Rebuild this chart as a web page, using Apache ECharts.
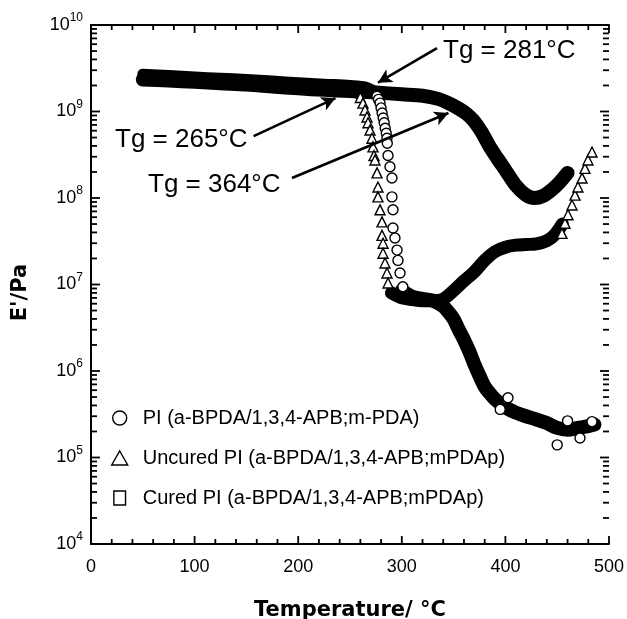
<!DOCTYPE html>
<html>
<head>
<meta charset="utf-8">
<title>E' vs temperature</title>
<script src="https://cdn.jsdelivr.net/npm/echarts@6/dist/echarts.min.js"></script>
<style>
  html, body { margin: 0; padding: 0; background: #ffffff; }
  #chart { width: 627px; height: 619px; }
</style>
</head>
<body>
<div id="chart"></div>
<script>
(function (global) {
  "use strict";

  var NAME_PI = "PI (a-BPDA/1,3,4-APB;m-PDA)";
  var NAME_UNCURED = "Uncured PI (a-BPDA/1,3,4-APB;mPDAp)";
  var NAME_CURED = "Cured PI (a-BPDA/1,3,4-APB;mPDAp)";

  var xTickLabels = [0, 100, 200, 300, 400, 500];
  var yDecades = [4, 5, 6, 7, 8, 9, 10];
  var tgLabels = ["Tg = 281°C", "Tg = 265°C", "Tg = 364°C"];

  // PI (circles): glassy plateau, open markers through the drop, rubbery tail
  var piPlateauT = [50, 75, 100, 125, 150, 175, 200, 225, 250, 265, 274];
  var piPlateauE = [2.7e9, 2.6e9, 2.5e9, 2.42e9, 2.35e9, 2.25e9, 2.15e9, 2.07e9, 2.0e9, 1.92e9, 1.7e9];
  var piDropT = [276, 277.5, 279, 280, 281, 282, 283, 284, 285, 285.7, 286, 286.7, 288.6, 290.5, 290.5, 291.5, 291.5, 293.4, 295.4, 296.3, 298.3, 301,
    402.5, 450, 472, 460, 483.6, 395];
  var piDropE = [1.5e9, 1.38e9, 1.25e9, 1.1e9, 9.6e8, 8.4e8, 7.4e8, 6.4e8, 5.6e8, 4.9e8, 4.3e8, 3.1e8, 2.3e8, 1.7e8, 1.03e8, 7.3e7, 4.5e7, 3.45e7, 2.5e7, 1.9e7, 1.36e7, 9.4e6,
    4.9e5, 1.4e5, 1.68e5, 2.65e5, 2.6e5, 3.6e5];
  var piTailT = [300, 310, 320, 330, 340, 345, 350, 355, 360, 365, 370, 375, 380, 385, 390, 395, 400, 410, 420, 430, 440, 450, 460, 470, 480, 486];
  var piTailE = [8.5e6, 7.2e6, 6.8e6, 6.5e6, 5.6e6, 4.8e6, 4.0e6, 3.0e6, 2.3e6, 1.7e6, 1.2e6, 8.8e5, 6.6e5, 5.5e5, 4.7e5, 4.2e5, 3.8e5, 3.3e5, 3.0e5, 2.75e5, 2.5e5, 2.2e5, 2.1e5, 2.2e5, 2.3e5, 2.4e5];

  // Uncured PI (triangles)
  var uncPlateauT = [50, 75, 100, 125, 150, 175, 200, 225, 250, 258];
  var uncPlateauE = [2.5e9, 2.42e9, 2.35e9, 2.28e9, 2.2e9, 2.1e9, 2.0e9, 1.92e9, 1.82e9, 1.6e9];
  var uncDropT = [260, 262.5, 264.5, 266.4, 267.4, 269.3, 271.2, 272.2, 273.2, 274.1, 276.1, 277, 277, 279, 280.9, 280.9, 281.9, 281.9, 283.8, 285.7, 286.7,
    454.6, 457.5, 460.4, 464.3, 467.2, 470, 474, 476.8, 479.7, 483.6];
  var uncDropE = [1.45e9, 1.25e9, 1.04e9, 8.64e8, 7.4e8, 6.1e8, 4.9e8, 3.9e8, 3.1e8, 2.75e8, 1.95e8, 1.34e8, 1.03e8, 7.3e7, 5.3e7, 3.7e7, 3.0e7, 2.3e7, 1.77e7, 1.36e7, 1.04e7,
    3.9e7, 5.1e7, 6.4e7, 8.3e7, 1.08e8, 1.34e8, 1.7e8, 2.2e8, 2.75e8, 3.4e8];
  var uncTailT = [290, 300, 310, 320, 330, 340, 350, 360, 370, 380, 390, 400, 410, 420, 430, 440, 448, 455];
  var uncTailE = [8.0e6, 7.0e6, 6.7e6, 6.5e6, 6.5e6, 6.8e6, 8.5e6, 1.1e7, 1.4e7, 1.9e7, 2.4e7, 2.7e7, 2.85e7, 2.9e7, 2.95e7, 3.2e7, 3.8e7, 5.0e7];

  // Cured PI (squares)
  var curedT = [50, 75, 100, 125, 150, 175, 200, 225, 250, 275, 300, 320, 335, 345, 355, 362, 369, 377, 385, 392, 400, 410, 420, 428, 436, 445, 452, 460];
  var curedE = [2.35e9, 2.28e9, 2.2e9, 2.12e9, 2.05e9, 1.95e9, 1.85e9, 1.78e9, 1.72e9, 1.66e9, 1.58e9, 1.52e9, 1.4e9, 1.25e9, 1.08e9, 9.5e8, 7.9e8, 5.8e8, 3.9e8, 2.9e8, 2.1e8, 1.4e8, 1.08e8, 1.0e8, 1.05e8, 1.25e8, 1.5e8, 1.95e8];

  var FONT = "'Liberation Sans', Arial, sans-serif";
  var FONT_BOLD = "'DejaVu Sans', 'Liberation Sans', sans-serif";
  var TICK = { stroke: "#000", lineWidth: 1.8 };

  var X_MIN = xTickLabels[0];
  var X_MAX = xTickLabels[xTickLabels.length - 1];
  var Y_MIN = Math.pow(10, yDecades[0]);
  var Y_MAX = Math.pow(10, yDecades[yDecades.length - 1]);

  function pairs(xs, ys) {
    return xs.map(function (x, i) { return [x, ys[i]]; });
  }

  // log ticks at 1..9 x 10^k, majors on the decades
  function yTickData() {
    var out = [];
    yDecades.forEach(function (k) {
      var base = Math.pow(10, k);
      if (k === yDecades[yDecades.length - 1]) {
        out.push([X_MIN, base, 1]);
        return;
      }
      for (var m = 1; m <= 9; m++) out.push([X_MIN, m * base, m === 1 ? 1 : 0]);
    });
    return out;
  }

  // five minor steps between the labelled ticks
  function xTickData() {
    var out = [];
    for (var i = 0; i < xTickLabels.length; i++) {
      out.push([xTickLabels[i], Y_MIN, 1]);
      if (i === xTickLabels.length - 1) break;
      var step = (xTickLabels[i + 1] - xTickLabels[i]) / 5;
      for (var j = 1; j < 5; j++) out.push([xTickLabels[i] + j * step, Y_MIN, 0]);
    }
    return out;
  }

  function seg(x1, y1, x2, y2) {
    return { type: "line", shape: { x1: x1, y1: y1, x2: x2, y2: y2 }, style: TICK };
  }

  function renderYTick(params, api) {
    var v = api.value(1);
    var len = api.value(2) ? 9 : 6;
    var l = api.coord([X_MIN, v]);
    var r = api.coord([X_MAX, v]);
    return { type: "group", children: [seg(l[0], l[1], l[0] + len, l[1]), seg(r[0] - len, r[1], r[0], r[1])] };
  }

  function renderXTick(params, api) {
    var t = api.value(0);
    var len = api.value(2) ? 8 : 5;
    var b = api.coord([t, Y_MIN]);
    var top = api.coord([t, Y_MAX]);
    return { type: "group", children: [seg(b[0], b[1], b[0], b[1] - len), seg(top[0], top[1], top[0], top[1] + len)] };
  }

  function band(name, data, width) {
    return {
      name: name,
      type: "line",
      data: data,
      symbol: "none",
      showSymbol: false,
      smooth: 0.3,
      silent: true,
      z: 2,
      itemStyle: { color: "#000" },
      lineStyle: { color: "#000", width: width, cap: "round", join: "round" }
    };
  }

  function markers(name, symbol, data, size) {
    return {
      name: name,
      type: "scatter",
      symbol: symbol,
      symbolSize: size,
      data: data,
      silent: true,
      z: 3,
      itemStyle: { color: "#ffffff", borderColor: "#000", borderWidth: 1.4, opacity: 1 }
    };
  }

  function ticks(data, render) {
    return {
      type: "custom",
      silent: true,
      clip: false,
      renderItem: render,
      encode: { x: 0, y: 1 },
      data: data,
      z: 5
    };
  }

  var xAxisBase = {
    type: "value",
    min: X_MIN,
    max: X_MAX,
    interval: 100,
    splitLine: { show: false },
    axisLine: { show: true, onZero: false, lineStyle: { color: "#000", width: 1.8 } },
    axisTick: { show: false },
    minorTick: { show: false }
  };

  var yAxisBase = {
    type: "log",
    logBase: 10,
    min: Y_MIN,
    max: Y_MAX,
    splitLine: { show: false },
    axisTick: { show: false },
    minorTick: { show: false },
    axisLine: { show: true, lineStyle: { color: "#000", width: 1.8 } }
  };

  var legendStyle = { color: "#fff", borderColor: "#000", borderWidth: 1.4 };

  var option = {
    animation: false,
    backgroundColor: "#ffffff",
    grid: { left: 91, right: 18, top: 25, bottom: 75, outerBoundsMode: "none" },
    legend: {
      orient: "vertical",
      left: 106,
      top: 403,
      itemWidth: 36,
      itemHeight: 14,
      itemGap: 20,
      selectedMode: false,
      textStyle: { fontFamily: FONT, fontSize: 20, color: "#000" },
      data: [
        { name: NAME_PI, icon: "circle", itemStyle: legendStyle },
        { name: NAME_UNCURED, icon: "path://M8,0L16,14H0Z", itemStyle: legendStyle },
        { name: NAME_CURED, icon: "path://M0,0H10V12H0Z", itemStyle: legendStyle }
      ]
    },
    xAxis: [
      Object.assign({}, xAxisBase, {
        position: "bottom",
        name: "Temperature/ °C",
        nameLocation: "middle",
        nameGap: 56,
        nameTextStyle: { fontFamily: FONT_BOLD, fontWeight: "bold", fontSize: 21, color: "#000" },
        axisLabel: { fontFamily: FONT, fontSize: 18, color: "#000", margin: 14 }
      }),
      Object.assign({}, xAxisBase, { position: "top", axisLabel: { show: false } })
    ],
    yAxis: [
      Object.assign({}, yAxisBase, {
        position: "left",
        name: "E'/Pa",
        nameLocation: "middle",
        nameGap: 60,
        nameTextStyle: { fontFamily: FONT_BOLD, fontWeight: "bold", fontSize: 21, color: "#000", padding: [0, 16, 0, 0] },
        axisLabel: {
          showMinLabel: true,
          showMaxLabel: true,
          margin: 8,
          formatter: function (v) {
            return "{b|10}{s|" + Math.round(Math.log(v) / Math.LN10) + "}";
          },
          rich: {
            b: { fontFamily: FONT, fontSize: 18, color: "#000", lineHeight: 26 },
            s: { fontFamily: FONT, fontSize: 12, color: "#000", lineHeight: 12, verticalAlign: "top" }
          }
        }
      }),
      Object.assign({}, yAxisBase, { position: "right", axisLabel: { show: false } })
    ],
    graphic: [
      { type: "text", x: 443, y: 51, style: { text: tgLabels[0], font: "26px " + FONT, fill: "#000", verticalAlign: "middle" } },
      { type: "text", x: 115, y: 140, style: { text: tgLabels[1], font: "26px " + FONT, fill: "#000", verticalAlign: "middle" } },
      { type: "text", x: 148, y: 185, style: { text: tgLabels[2], font: "26px " + FONT, fill: "#000", verticalAlign: "middle" } }
    ],
    series: [
      Object.assign(band(NAME_CURED, pairs(curedT, curedE), 14), {
        markLine: {
          silent: true,
          symbol: ["none", "arrow"],
          symbolSize: [11, 14],
          label: { show: false },
          lineStyle: { color: "#000", width: 2.6, type: "solid" },
          emphasis: { disabled: true },
          data: [
            [{ coord: [334, 5.4e9] }, { coord: [277, 2.15e9] }],
            [{ coord: [157, 5.2e8] }, { coord: [236, 1.43e9] }],
            [{ coord: [194, 1.7e8] }, { coord: [345, 9.6e8] }]
          ]
        }
      }),
      band(NAME_UNCURED, pairs(uncPlateauT, uncPlateauE), 11),
      band(NAME_UNCURED, pairs(uncTailT, uncTailE), 13),
      band(NAME_PI, pairs(piPlateauT, piPlateauE), 11),
      band(NAME_PI, pairs(piTailT, piTailE), 14),
      markers(NAME_UNCURED, "triangle", pairs(uncDropT, uncDropE), 10),
      markers(NAME_PI, "circle", pairs(piDropT, piDropE), 10),
      ticks(yTickData(), renderYTick),
      ticks(xTickData(), renderXTick)
    ]
  };

  var chart = global.echarts.init(document.getElementById("chart"), null, { renderer: "canvas" });
  chart.setOption(option);
})(window);
</script>
</body>
</html>
